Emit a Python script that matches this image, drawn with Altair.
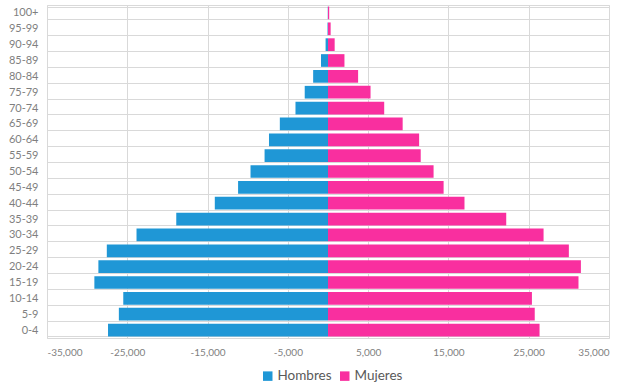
import altair as alt
import pandas as pd

# Age groups, youngest first
grupos = ["0-4", "5-9", "10-14", "15-19", "20-24", "25-29", "30-34", "35-39",
          "40-44", "45-49", "50-54", "55-59", "60-64", "65-69", "70-74",
          "75-79", "80-84", "85-89", "90-94", "95-99", "100+"]

# Population counts per age group
hombres = [27400, 26050, 25500, 29100, 28600, 27550, 23850, 18900,
           14100, 11200, 9650, 7900, 7350, 6000, 4050,
           2900, 1850, 870, 300, 60, 30]
mujeres = [26350, 25750, 25400, 31200, 31500, 30000, 26850, 22200,
           17000, 14400, 13150, 11550, 11350, 9300, 7000,
           5300, 3750, 2050, 830, 330, 150]

tick_values = [-35000, -25000, -15000, -5000, 5000, 15000, 25000, 35000]

sexos = ["Hombres", "Mujeres"]
colores = ["#1f97d6", "#f92f9f"]

df = pd.DataFrame({
    "edad": grupos * 2,
    "sexo": ["Hombres"] * len(grupos) + ["Mujeres"] * len(grupos),
    "poblacion": [-v for v in hombres] + mujeres,
})

font = "Lato"

chart = alt.Chart(df).mark_bar().encode(
    x=alt.X(
        "poblacion:Q",
        scale=alt.Scale(domain=[-35000, 35000], nice=False),
        axis=alt.Axis(
            values=tick_values,
            # thousands separator with a plain hyphen for negatives
            labelExpr="replace(format(datum.value, ','), '\u2212', '-')",
            title=None,
            domain=False,
            ticks=False,
            grid=True,
            gridColor="#d9d9d9",
            labelPadding=9,
            labelFontSize=10,
            labelColor="#7f7f7f",
            labelFont=font,
        ),
    ),
    y=alt.Y(
        "edad:N",
        sort=list(reversed(grupos)),
        scale=alt.Scale(paddingInner=0.2, paddingOuter=0.1),
        axis=alt.Axis(
            title=None,
            domain=False,
            ticks=False,
            grid=True,
            tickBand="extent",
            gridColor="#d9d9d9",
            labelPadding=9,
            labelFontSize=11,
            labelColor="#7f7f7f",
            labelFont=font,
        ),
    ),
    color=alt.Color(
        "sexo:N",
        scale=alt.Scale(domain=sexos, range=colores),
        legend=alt.Legend(
            title=None,
            orient="none",
            direction="horizontal",
            legendX=214,
            legendY=364,
            symbolType="square",
            symbolSize=90,
            symbolStrokeWidth=0,
            labelFontSize=13.5,
            labelColor="#595959",
            labelFont=font,
            columnPadding=6,
            labelOffset=3,
        ),
    ),
).properties(
    width=562,
    height=333,
    autosize=alt.AutoSizeParams(type="none"),
    padding={"left": 47, "top": 5, "right": 15, "bottom": 49},
).configure_view(
    stroke="#d9d9d9",
)

chart.save("out.html", embed_options={"renderer": "svg", "actions": False})
